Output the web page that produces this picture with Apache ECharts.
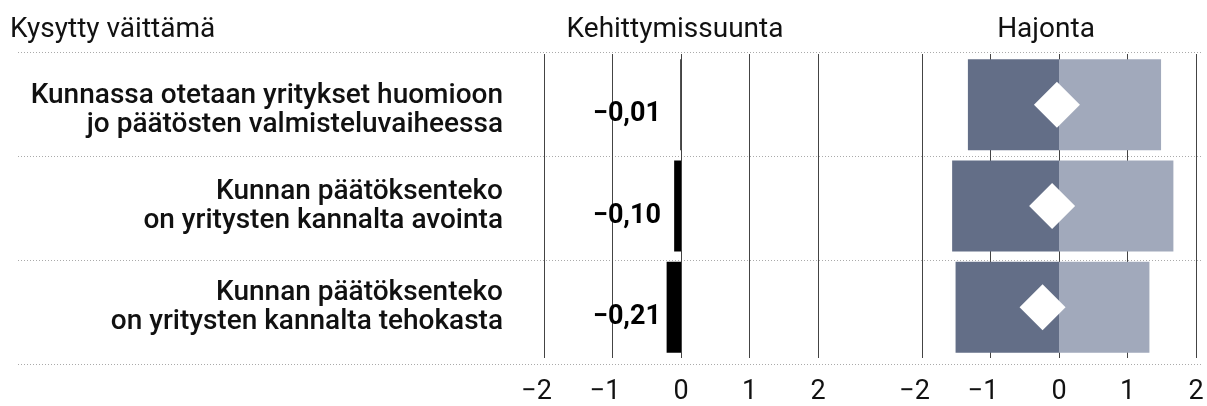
<!DOCTYPE html>
<html>
<head>
<meta charset="utf-8">
<script src="https://cdn.jsdelivr.net/npm/echarts@6/dist/echarts.min.js"></script>
<style>
html, body { margin: 0; padding: 0; background: #fff; }
#container { width: 1207px; height: 406px; }
</style>
</head>
<body>
<div id="container"></div>
<script>
// kysytyt väittämät (rivit ylhäältä alas)
var statements = [
    'Kunnassa otetaan yritykset huomioon\njo päätösten valmisteluvaiheessa',
    'Kunnan päätöksenteko\non yritysten kannalta avointa',
    'Kunnan päätöksenteko\non yritysten kannalta tehokasta'
];
// kehittymissuunta
var trend = [-0.01, -0.10, -0.21];
// hajonta: alaosa ja yläosa, sekä vinoneliön paikka
var spreadLow = [-1.33, -1.56, -1.51];
var spreadHigh = [1.49, 1.67, 1.32];
var spreadMark = [-0.03, -0.10, -0.24];
var axisTicks = [-2, -1, 0, 1, 2];

var FONT = 'Roboto, "Noto Sans", sans-serif';
var fmtNum = function (v) {
    return (v < 0 ? '\u2212' : '') + Math.abs(v).toFixed(2).replace('.', ',');
};
var fmtTick = function (v) {
    // miinusmerkki roikkuu numeron vasemmalla puolella
    return v < 0 ? '{t|\u2212' + Math.abs(v) + '}{s| }' : '{t|' + v + '}';
};
var rowText = {
    fontFamily: FONT,
    fontSize: 28,
    fontWeight: 500,
    lineHeight: 29,
    color: '#111',
    align: 'right'
};

var dom = document.getElementById('container');
var myChart = echarts.init(dom);

var valueAxis = function (grid) {
    return {
        gridIndex: grid,
        type: 'value',
        min: axisTicks[0],
        max: axisTicks[axisTicks.length - 1],
        interval: 1,
        axisLine: { show: false },
        axisTick: { show: false },
        splitLine: { show: true, lineStyle: { color: '#444', width: 1 } },
        axisLabel: {
            margin: 21,
            formatter: fmtTick,
            rich: {
                t: { fontFamily: FONT, fontSize: 27, color: '#111' },
                s: { fontFamily: FONT, fontSize: 27, width: 15 }
            }
        }
    };
};
var catAxis = function (grid, showLabel) {
    return {
        gridIndex: grid,
        type: 'category',
        data: statements,
        inverse: true,
        axisLine: { show: false },
        axisTick: { show: false },
        splitLine: { show: false },
        axisLabel: {
            show: showLabel,
            margin: 41,
            // ensimmäinen rivi hieman alemmas kuten alkuperäisessä
            formatter: function (v, i) {
                var lines = v.split('\n').map(function (l) { return '{r|' + l + '}'; });
                return (i === 0 ? '{g| }\n' : '') + lines.join('\n');
            },
            rich: {
                r: rowText,
                g: { fontSize: 1, lineHeight: 12 }
            }
        }
    };
};

option = {
    backgroundColor: '#fff',
    animation: false,
    graphic: [
        { type: 'text', x: 10, y: 30, style: { text: 'Kysytty väittämä', font: '28px ' + FONT, fill: '#111', textVerticalAlign: 'middle' } },
        { type: 'text', x: 675, y: 30, style: { text: 'Kehittymissuunta', font: '28px ' + FONT, fill: '#111', textAlign: 'center', textVerticalAlign: 'middle' } },
        { type: 'text', x: 1046, y: 30, style: { text: 'Hajonta', font: '28px ' + FONT, fill: '#111', textAlign: 'center', textVerticalAlign: 'middle' } }
    ],
    grid: [
        { left: 544, width: 274, top: 54, height: 312 },
        { left: 922, width: 274, top: 54, height: 312 },
        { left: 18, right: 5, top: 52, height: 312 }
    ],
    xAxis: [
        valueAxis(0),
        valueAxis(1),
        { gridIndex: 2, type: 'value', show: false }
    ],
    yAxis: [
        catAxis(0, true),
        catAxis(1, false),
        {
            gridIndex: 2,
            type: 'value',
            min: 0,
            max: statements.length,
            interval: 1,
            axisLine: { show: false },
            axisTick: { show: false },
            axisLabel: { show: false },
            splitLine: { show: true, lineStyle: { color: '#aaa', width: 1, type: [1, 2] } }
        }
    ],
    series: [
        {
            name: 'Kehittymissuunta',
            type: 'bar',
            xAxisIndex: 0,
            yAxisIndex: 0,
            data: trend,
            barWidth: 91,
            itemStyle: { color: '#000' },
            label: {
                show: true,
                formatter: function (p) { return fmtNum(p.value); },
                fontFamily: FONT,
                fontSize: 27,
                fontWeight: 'bold',
                color: '#000'
            },
            labelLayout: function (p) {
                var r = p.rect;
                return {
                    x: Math.max(r.x, r.x + r.width) - 20,
                    y: r.y + r.height / 2 + 10,
                    align: 'right',
                    verticalAlign: 'middle'
                };
            }
        },
        {
            name: 'Hajonta ala',
            type: 'bar',
            xAxisIndex: 1,
            yAxisIndex: 1,
            data: spreadLow,
            barWidth: 91,
            barGap: '-100%',
            itemStyle: { color: '#636e87' }
        },
        {
            name: 'Hajonta ylä',
            type: 'bar',
            xAxisIndex: 1,
            yAxisIndex: 1,
            data: spreadHigh,
            barWidth: 91,
            barGap: '-100%',
            itemStyle: { color: '#a1a9bb' }
        },
        {
            name: 'Keskiarvo',
            type: 'scatter',
            xAxisIndex: 1,
            yAxisIndex: 1,
            data: spreadMark.map(function (v, i) { return [v, i]; }),
            symbol: 'diamond',
            symbolSize: [46, 46],
            itemStyle: { color: '#fff', opacity: 1 },
            z: 5
        }
    ]
};
if (option && typeof option === 'object') {
    myChart.setOption(option, true);
}
</script>
</body>
</html>
